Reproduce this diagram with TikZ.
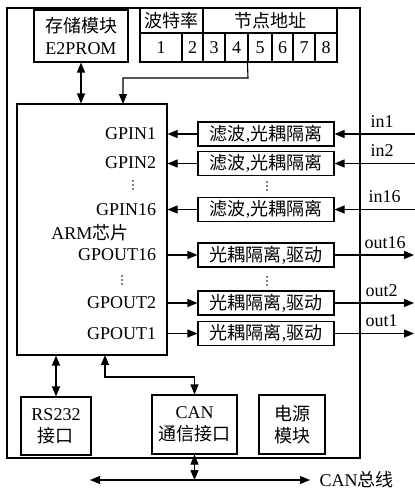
\documentclass[tikz,border=0pt]{standalone}
\usepackage{fontspec}
\setmainfont{Liberation Serif}
\newfontfamily\zhfont{Noto Sans CJK SC}
\newcommand{\zh}[1]{{\zhfont #1}}
\usetikzlibrary{arrows.meta}
\begin{document}
\begin{tikzpicture}[x=1pt, y=-1pt, font=\fontsize{18}{22}\selectfont, line width=1.1pt,
    ioBox/.style={draw, align=center, inner sep=1pt},
    ioCell/.style={draw, inner sep=0pt, minimum height=29pt},
    ioTag/.style={inner sep=1pt},
    ioArrow/.style={-{Triangle[length=10pt,width=8pt]}},
    ioBiArrow/.style={{Triangle[length=10pt,width=8pt]}-{Triangle[length=10pt,width=8pt]}}]

    \useasboundingbox (0, 0) rectangle (415, 490);

    % Board
    \node[draw, minimum width=353pt, minimum height=450pt] (board) at (183.5, 233) {};
    \node[ioBox, minimum width=94pt, minimum height=52pt] (storeBox) at (81, 36) {\zh{存储模块}\\E2PROM};

    % Switch table
    \node[ioCell, minimum width=63pt, minimum height=25pt] (baudHead) at (171.5, 20.5) {\zh{波特率}};
    \node[ioCell, minimum width=134pt, minimum height=25pt] (addrHead) at (270, 20.5) {\zh{节点地址}};
    \node[ioCell, minimum width=42pt] (swCell1) at (161, 47.5) {1};
    \node[ioCell, minimum width=21pt] (swCell2) at (192.5, 47.5) {2};
    \node[ioCell, minimum width=22pt] (swCell3) at (214, 47.5) {3};
    \node[ioCell, minimum width=23pt] (swCell4) at (236.5, 47.5) {4};
    \node[ioCell, minimum width=24pt] (swCell5) at (260, 47.5) {5};
    \node[ioCell, minimum width=21pt] (swCell6) at (282.5, 47.5) {6};
    \node[ioCell, minimum width=22pt] (swCell7) at (304, 47.5) {7};
    \node[ioCell, minimum width=22pt] (swCell8) at (326, 47.5) {8};

    % ARM chip
    \node[draw, minimum width=150pt, minimum height=251pt] (armChip) at (92, 229.5) {};
    \node (armName) at (90, 233) {ARM\zh{芯片}};
    \coordinate (armAddr) at (123, 104);
    \coordinate (armCan) at (105, 355);

    \node[anchor=east] (gpin1) at (160, 134) {GPIN1};
    \node[anchor=east] (gpin2) at (160, 163) {GPIN2};
    \node[anchor=east] (gpin16) at (160, 209.5) {GPIN16};
    \node[anchor=east] (gpout16) at (160, 255) {GPOUT16};
    \node[anchor=east] (gpout2) at (160, 303) {GPOUT2};
    \node[anchor=east] (gpout1) at (160, 333.5) {GPOUT1};

    % Inputs
    \node[ioBox, minimum width=136pt, minimum height=24pt] (filterIn1) at (266, 134) {\zh{滤波},\zh{光耦隔离}};
    \node[ioBox, minimum width=136pt, minimum height=24pt] (filterIn2) at (266, 163.5) {\zh{滤波},\zh{光耦隔离}};
    \node[ioBox, minimum width=136pt, minimum height=24pt] (filterIn16) at (266, 209.5) {\zh{滤波},\zh{光耦隔离}};
    \coordinate (inEnd1) at (415, 134);
    \coordinate (inEnd2) at (415, 163.5);
    \coordinate (inEnd16) at (415, 209.5);
    \node[ioTag, anchor=south west] (inTag1) at (369, 129) {in1};
    \node[ioTag, anchor=south west] (inTag2) at (369, 158.5) {in2};
    \node[ioTag, anchor=south west] (inTag16) at (367, 204.5) {in16};

    % Outputs
    \node[ioBox, minimum width=136pt, minimum height=24pt] (filterOut16) at (266, 255) {\zh{光耦隔离},\zh{驱动}};
    \node[ioBox, minimum width=136pt, minimum height=24pt] (filterOut2) at (266, 303) {\zh{光耦隔离},\zh{驱动}};
    \node[ioBox, minimum width=136pt, minimum height=24pt] (filterOut1) at (266, 333.5) {\zh{光耦隔离},\zh{驱动}};
    \coordinate (outEnd16) at (414, 255);
    \coordinate (outEnd2) at (414, 303);
    \coordinate (outEnd1) at (414, 333.5);
    \node[ioTag, anchor=south west] (outTag16) at (363, 250) {out16};
    \node[ioTag, anchor=south west] (outTag2) at (364, 298) {out2};
    \node[ioTag, anchor=south west] (outTag1) at (364, 328.5) {out1};

    % Vertical dots
    \coordinate (gpinDots) at (133, 185);
    \coordinate (filterDots) at (267, 186);
    \coordinate (gpoutDots) at (122, 280);
    \coordinate (outDots) at (267, 281);
    \foreach \p in {gpinDots, filterDots, gpoutDots, outDots}
        \foreach \d in {-4, 0, 4}
            \fill ([yshift=\d pt]\p) circle (0.8pt);

    % Bottom modules
    \node[ioBox, minimum width=70pt, minimum height=58pt] (rsBox) at (56, 426) {RS232\\\zh{接口}};
    \node[ioBox, minimum width=85pt, minimum height=59pt] (canBox) at (194.5, 424.5) {CAN\\\zh{通信接口}};
    \node[ioBox, minimum width=66pt, minimum height=59pt] (powerBox) at (292, 424.5) {\zh{电源}\\\zh{模块}};

    % CAN bus
    \coordinate (busMid) at (194.5, 480);
    \coordinate (busLeft) at (90, 480);
    \coordinate (busRight) at (310, 480);
    \node[ioTag, anchor=west] (busTag) at (318, 480) {CAN\zh{总线}};

    \draw[ioBiArrow] (storeBox.south) -- (storeBox.south |- armChip.north);
    \draw[ioArrow] (swCell5.south west) -- (248, 78) -| (armAddr);

    \draw[ioArrow] (filterIn1.west) -- (filterIn1.west -| armChip.east);
    \draw[ioArrow] (filterIn2.west) -- (filterIn2.west -| armChip.east);
    \draw[ioArrow] (filterIn16.west) -- (filterIn16.west -| armChip.east);
    \draw[ioArrow] (inEnd1) -- (filterIn1.east);
    \draw[ioArrow] (inEnd2) -- (filterIn2.east);
    \draw[ioArrow] (inEnd16) -- (filterIn16.east);

    \draw[ioArrow] (filterOut16.west -| armChip.east) -- (filterOut16.west);
    \draw[ioArrow] (filterOut2.west -| armChip.east) -- (filterOut2.west);
    \draw[ioArrow] (filterOut1.west -| armChip.east) -- (filterOut1.west);
    \draw[ioArrow] (filterOut16.east) -- (outEnd16);
    \draw[ioArrow] (filterOut2.east) -- (outEnd2);
    \draw[ioArrow] (filterOut1.east) -- (outEnd1);

    \draw[ioBiArrow] (rsBox.north |- armChip.south) -- (rsBox.north);
    \draw[ioBiArrow] (armCan) -- (105, 377) -| (canBox.north);
    \draw[ioBiArrow] (canBox.south) -- (busMid);
    \draw[ioBiArrow] (busLeft) -- (busRight);
\end{tikzpicture}
\end{document}
